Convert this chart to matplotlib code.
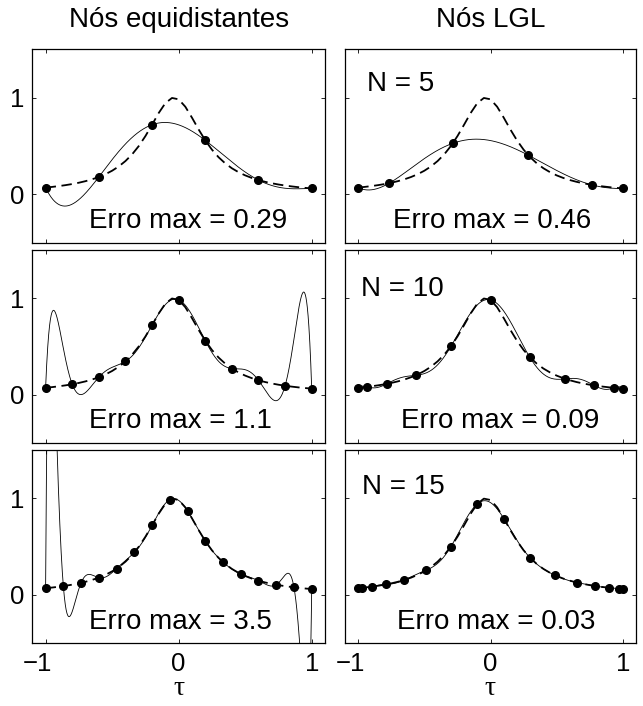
import numpy as np
import matplotlib
matplotlib.use("Agg")
import matplotlib.pyplot as plt
from matplotlib.transforms import ScaledTranslation

plt.rcParams['font.family'] = ['Liberation Sans', 'DejaVu Sans']
plt.rcParams['lines.scale_dashes'] = False

# ---- data -------------------------------------------------------------
col_titles = ["Nós equidistantes", "Nós LGL"]
n_labels = ["N = 5", "N = 10", "N = 15"]
err_equi = ["Erro max = 0.29", "Erro max = 1.1", "Erro max = 3.5"]
err_lgl = ["Erro max = 0.46", "Erro max = 0.09", "Erro max = 0.03"]
xticks = [-1, 0, 1]
yticks = [0, 1]

# exact function (dashed), sampled every 0.05 on [-1, 1]
f_x = np.round(np.arange(-1.0, 1.0001, 0.05), 2)
f_y = [0.0699, 0.0771, 0.0855, 0.0953, 0.1067, 0.1203, 0.1365, 0.1560,
       0.1797, 0.2086, 0.2444, 0.2888, 0.3442, 0.4134, 0.4990, 0.6020,
       0.7197, 0.8410, 0.9430, 0.9968, 0.9828, 0.9064, 0.7933, 0.6714,
       0.5588, 0.4626, 0.3839, 0.3206, 0.2698, 0.2292, 0.1963, 0.1697,
       0.1478, 0.1297, 0.1146, 0.1019, 0.0912, 0.0820, 0.0741, 0.0672,
       0.0613]

# equidistant nodes
eq5_x = [-1.0, -0.6, -0.2, 0.2, 0.6, 1.0]
eq5_y = [0.0699, 0.1797, 0.7197, 0.5588, 0.1478, 0.0613]
eq10_x = [-1.0, -0.8, -0.6, -0.4, -0.2, 0.0, 0.2, 0.4, 0.6, 0.8, 1.0]
eq10_y = [0.0699, 0.1067, 0.1797, 0.3442, 0.7197, 0.9828, 0.5588, 0.2698,
          0.1478, 0.0912, 0.0613]
eq15_x = [-1.0, -0.86667, -0.73333, -0.6, -0.46667, -0.33333, -0.2, -0.06667,
          0.06667, 0.2, 0.33333, 0.46667, 0.6, 0.73333, 0.86667, 1.0]
eq15_y = [0.0699, 0.0918, 0.1254, 0.1797, 0.2729, 0.4400, 0.7197, 0.9859,
          0.8712, 0.5588, 0.3401, 0.2174, 0.1478, 0.1059, 0.0792, 0.0613]

# LGL nodes
lgl5_x = [-1.0, -0.765055, -0.285232, 0.285232, 0.765055, 1.0]
lgl5_y = [0.0699, 0.1160, 0.5276, 0.4054, 0.0985, 0.0613]
lgl10_x = [-1.0, -0.934001, -0.784483, -0.565235, -0.295758, 0.0,
           0.295758, 0.565235, 0.784483, 0.934001, 1.0]
lgl10_y = [0.0699, 0.0796, 0.1107, 0.1992, 0.5070, 0.9828, 0.3899, 0.1625,
           0.0943, 0.0693, 0.0613]
lgl15_x = [-1.0, -0.969568, -0.899200, -0.792008, -0.652389, -0.486059,
           -0.299830, -0.101326, 0.101326, 0.299830, 0.486059, 0.652389,
           0.792008, 0.899200, 0.969568, 1.0]
lgl15_y = [0.0699, 0.0741, 0.0856, 0.1088, 0.1550, 0.2558, 0.4993, 0.9408,
           0.7900, 0.3841, 0.2048, 0.1289, 0.0928, 0.0742, 0.0648, 0.0613]

equi_nodes = [(eq5_x, eq5_y), (eq10_x, eq10_y), (eq15_x, eq15_y)]
lgl_nodes = [(lgl5_x, lgl5_y), (lgl10_x, lgl10_y), (lgl15_x, lgl15_y)]


def lagrange(xn, yn, t):
    xn = np.asarray(xn, float)
    yn = np.asarray(yn, float)
    out = np.zeros_like(t)
    for j in range(len(xn)):
        L = np.ones_like(t)
        for m in range(len(xn)):
            if m != j:
                L *= (t - xn[m]) / (xn[j] - xn[m])
        out += yn[j] * L
    return out


# ---- figure -----------------------------------------------------------
W, H = 643, 706
fig = plt.figure(figsize=(W / 100, H / 100), dpi=100)

col_lr = [(32.3, 325.0), (345.0, 636.0)]
row_tb = [(49.3, 242.7), (250.0, 442.7), (450.0, 643.3)]

# text positions (data coords)
err_pos_equi = [(-0.675, -0.35), (-0.675, -0.35), (-0.675, -0.35)]
err_pos_lgl = [(-0.74, -0.35), (-0.68, -0.35), (-0.705, -0.35)]
n_pos = [(-0.93, 1.07), (-0.98, 1.02), (-0.975, 1.04)]

FS = 20
FT = 18.5
t = np.linspace(-1, 1, 2001)

for c in range(2):
    l, r = col_lr[c]
    for rr in range(3):
        tp, bt = row_tb[rr]
        ax = fig.add_axes([l / W, 1 - bt / H, (r - l) / W, (bt - tp) / H])
        ax.set_xlim(-1.1, 1.1)
        ax.set_ylim(-0.5, 1.5)
        xn, yn = (equi_nodes if c == 0 else lgl_nodes)[rr]
        ax.plot(f_x, f_y, color='black', lw=1.3, dashes=(7.5, 4.0), zorder=2)
        ax.plot(t, lagrange(xn, yn, t), color='black', lw=0.6, zorder=3)
        ax.plot(xn, yn, 'o', color='black', ms=5.5, zorder=4)
        ax.set_xticks(xticks)
        ax.set_yticks(yticks)
        ax.tick_params(direction='in', top=True, right=True, length=3,
                       width=0.6, labelsize=FT, pad=6)
        if c == 1:
            ax.set_yticklabels([])
        if rr < 2:
            ax.set_xticklabels([])
        else:
            lab = ax.get_xticklabels()[0]
            lab.set_transform(lab.get_transform() +
                              ScaledTranslation(-0.08, 0, fig.dpi_scale_trans))
        for s in ax.spines.values():
            s.set_linewidth(0.9)
        if c == 0:
            ex, ey = err_pos_equi[rr]
            ax.text(ex, ey, err_equi[rr], fontsize=FS, ha='left', va='baseline')
        else:
            ex, ey = err_pos_lgl[rr]
            ax.text(ex, ey, err_lgl[rr], fontsize=FS, ha='left', va='baseline')
            nx, ny = n_pos[rr]
            ax.text(nx, ny, n_labels[rr], fontsize=FS, ha='left', va='baseline')
        if rr == 2:
            ax.text(0.5, -0.27, "τ", transform=ax.transAxes, ha='center',
                    va='baseline', fontsize=FS,
                    family=['Liberation Serif', 'DejaVu Serif'])
    fig.text((l + r) / 2 / W, 1 - 27 / H, col_titles[c], ha='center',
             va='baseline', fontsize=FS)

fig.savefig("out.png", dpi=100)
